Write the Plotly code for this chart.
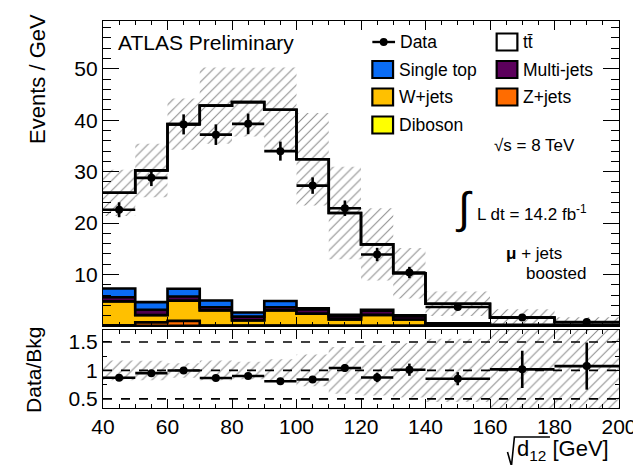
import plotly.graph_objects as go

# ---------------- data ----------------
bin_edges = [40, 50, 60, 70, 80, 90, 100, 110, 120, 130, 140, 160, 180, 200]

ttbar      = [18.6, 25.6, 32.0, 37.9, 40.9, 37.2, 29.0, 19.8, 12.7, 8.2, 3.8, 1.4, 0.6]
single_top = [1.7, 1.5, 1.5, 1.3, 0.8, 1.2, 0.2, 0.3, 0.2, 0.2, 0.1, 0.05, 0.03]
multi_jets = [0.8, 1.0, 0.8, 0.6, 0.7, 0.6, 0.8, 0.6, 0.8, 0.6, 0.15, 0.05, 0.03]
diboson    = [0.05, 0.05, 0.05, 0.05, 0.03, 0.05, 0.03, 0.03, 0.02, 0.02, 0.01, 0.01, 0.005]
w_jets     = [4.6, 1.4, 3.9, 2.9, 1.0, 2.9, 2.3, 1.2, 2.1, 1.2, 0.25, 0.1, 0.05]
z_jets     = [0.15, 0.7, 1.0, 0.1, 0.1, 0.1, 0.1, 0.05, 0.05, 0.05, 0.02, 0.01, 0.01]

mc_unc     = [4.5, 5.2, 5.0, 7.4, 6.7, 8.2, 9.0, 9.0, 7.0, 4.9, 2.4, 1.65, 1.0]

data       = [22.6, 28.8, 39.2, 37.2, 39.3, 34.0, 27.3, 22.9, 13.9, 10.4, 3.7, 1.65, 0.78]
data_err   = [1.45, 1.6, 1.95, 2.0, 2.0, 1.85, 1.6, 1.5, 1.3, 1.1, 0.5, 0.53, 0.3]

x_ticks = [40, 60, 80, 100, 120, 140, 160, 180, 200]
y_ticks = [10, 20, 30, 40, 50]
r_ticks = [0.5, 1, 1.5]
r_tick_text = ["0.5", "1", "1.5"]

# colours
C_ST = "#0a6cf5"
C_MJ = "#4e004e"
C_DB = "#ffff00"
C_W = "#ffc000"
C_Z = "#ff6c00"
HATCH = "#1a1a1a"

FONT = "Liberation Sans, Arial, Helvetica, sans-serif"

# ---------------- derived ----------------
centers = [(bin_edges[i] + bin_edges[i + 1]) / 2 for i in range(len(bin_edges) - 1)]
halfw = [(bin_edges[i + 1] - bin_edges[i]) / 2 for i in range(len(bin_edges) - 1)]


def step(vals):
    return list(bin_edges), list(vals) + [vals[-1]]


layers = [("Z+jets", z_jets, C_Z), ("W+jets", w_jets, C_W), ("Diboson", diboson, C_DB),
          ("Multi-jets", multi_jets, C_MJ), ("Single top", single_top, C_ST), ("ttbar", ttbar, "#ffffff")]

fig = go.Figure()
cum = [0.0] * len(ttbar)
for i, (name, vals, col) in enumerate(layers):
    cum = [c + v for c, v in zip(cum, vals)]
    sx, sy = step(cum)
    fig.add_trace(go.Scatter(x=sx, y=sy, mode="lines", line=dict(shape="hv", color="black", width=2.6),
                             fill="tozeroy" if i == 0 else "tonexty", fillcolor=col,
                             xaxis="x2", yaxis="y2", showlegend=False, hoverinfo="skip"))
total = cum

pattern = dict(shape="/", fgcolor=HATCH, bgcolor="rgba(0,0,0,0)", size=7, solidity=0.15)

# uncertainty band (top)
lo = [t - u for t, u in zip(total, mc_unc)]
hi = [t + u for t, u in zip(total, mc_unc)]
sx, sy = step(lo)
fig.add_trace(go.Scatter(x=sx, y=sy, mode="lines", line=dict(shape="hv", width=0, color="rgba(0,0,0,0)"),
                         xaxis="x2", yaxis="y2", showlegend=False, hoverinfo="skip"))
sx, sy = step(hi)
fig.add_trace(go.Scatter(x=sx, y=sy, mode="lines", line=dict(shape="hv", width=0, color="rgba(0,0,0,0)"),
                         fill="tonexty", fillcolor="rgba(0,0,0,0)", fillpattern=pattern,
                         xaxis="x2", yaxis="y2", showlegend=False, hoverinfo="skip"))
# total line on top
sx, sy = step(total)
fig.add_trace(go.Scatter(x=sx, y=sy, mode="lines", line=dict(shape="hv", color="black", width=2.6),
                         xaxis="x2", yaxis="y2", showlegend=False, hoverinfo="skip"))
# data
fig.add_trace(go.Scatter(x=centers, y=data, mode="markers",
                         marker=dict(color="black", size=8),
                         error_y=dict(type="data", array=data_err, color="black", thickness=2.6, width=0),
                         error_x=dict(type="data", array=halfw, color="black", thickness=2.6, width=0),
                         xaxis="x2", yaxis="y2", showlegend=False, hoverinfo="skip"))

# ---------------- ratio panel ----------------
rel = [u / t for u, t in zip(mc_unc, total)]
ratio = [d / t for d, t in zip(data, total)]
ratio_err = [e / t for e, t in zip(data_err, total)]
sx, sy = step([1 - r for r in rel])
fig.add_trace(go.Scatter(x=sx, y=sy, mode="lines", line=dict(shape="hv", width=0, color="rgba(0,0,0,0)"),
                         xaxis="x", yaxis="y", showlegend=False, hoverinfo="skip"))
sx, sy = step([1 + r for r in rel])
fig.add_trace(go.Scatter(x=sx, y=sy, mode="lines", line=dict(shape="hv", width=0, color="rgba(0,0,0,0)"),
                         fill="tonexty", fillcolor="rgba(0,0,0,0)", fillpattern=pattern,
                         xaxis="x", yaxis="y", showlegend=False, hoverinfo="skip"))
fig.add_trace(go.Scatter(x=centers, y=ratio, mode="markers",
                         marker=dict(color="black", size=8),
                         error_y=dict(type="data", array=ratio_err, color="black", thickness=2.6, width=0),
                         error_x=dict(type="data", array=halfw, color="black", thickness=2.6, width=0),
                         xaxis="x", yaxis="y", showlegend=False, hoverinfo="skip"))

# ---------------- layout helpers ----------------
L, R, T, B = 95, 618, 13, 400
W_, H_ = R - L, B - T


def px(x):
    return (x - L) / W_


def py(y):
    return (B - y) / H_


shapes = []
for rv in r_ticks:
    shapes.append(dict(type="line", xref="paper", yref="y", x0=0, x1=1, y0=rv, y1=rv,
                       line=dict(color="black", width=1.6, dash="dash"), layer="above"))
# thick bottom line of top frame
shapes.append(dict(type="line", xref="paper", yref="y2", x0=0, x1=1, y0=0, y1=0,
                   line=dict(color="black", width=3)))

annotations = []


def text(x, y, s, size=17.5, anchor="left", **kw):
    annotations.append(dict(x=px(x), y=py(y), xref="paper", yref="paper", text=s, showarrow=False,
                            xanchor=anchor, yanchor="middle", font=dict(family=FONT, size=size, color="black"), **kw))


# legend
leg_rows = [34, 61.5, 89, 117]
box_w, box_h = 21, 17
col1, col2 = 368, 494
legend_boxes = [(col1, leg_rows[1], C_ST, "Single top"), (col1, leg_rows[2], C_W, "W+jets"),
                (col1, leg_rows[3], C_DB, "Diboson"), (col2, leg_rows[0], "#ffffff", "t\u0074\u0304"),
                (col2, leg_rows[1], "#5c005c", "Multi-jets"), (col2, leg_rows[2], C_Z, "Z+jets")]
for bx, by, col, lab in legend_boxes:
    shapes.append(dict(type="rect", xref="paper", yref="paper", x0=px(bx), x1=px(bx + box_w),
                       y0=py(by + box_h / 2), y1=py(by - box_h / 2), fillcolor=col,
                       line=dict(color="black", width=2.2), layer="above"))
    text(bx + box_w + 4, by, lab)
# data legend
shapes.append(dict(type="line", xref="paper", yref="paper", x0=px(col1), x1=px(col1 + 23),
                   y0=py(leg_rows[0]), y1=py(leg_rows[0]), line=dict(color="black", width=2.4)))
shapes.append(dict(type="circle", xref="paper", yref="paper", x0=px(col1 + 7.5), x1=px(col1 + 15.5),
                   y0=py(leg_rows[0] + 4), y1=py(leg_rows[0] - 4), fillcolor="black", line=dict(color="black", width=0)))
text(col1 + 26, leg_rows[0], "Data")

text(108, 35, "ATLAS Preliminary", size=21)
text(489, 137, "\u221as = 8 TeV", size=17)
text(450, 200, "\u222b", size=44)
text(472, 205, "L dt = 14.2 fb<sup>-1</sup>", size=17)
text(501, 245, "<b>\u03bc</b> + jets", size=17)
text(522, 265, "boosted", size=17)

# axis titles
text(28, 71, "Events / GeV", size=22, anchor="center", textangle=-90)
text(24, 362, "Data/Bkg", size=21, anchor="center", textangle=-90)
text(513, 442, "d<sub>12</sub> [GeV]", size=22)
# radical sign
shapes.append(dict(type="path", xref="paper", yref="paper",
                   path="M {:.4f},{:.4f} L {:.4f},{:.4f} L {:.4f},{:.4f} L {:.4f},{:.4f}".format(
                       px(505), py(444), px(509), py(458), px(512), py(429), px(548), py(429)),
                   line=dict(color="black", width=1.6)))

axis_common = dict(showline=True, linecolor="black", linewidth=1.2, mirror="allticks", ticks="inside",
                   tickcolor="black", showgrid=False, zeroline=False,
                   tickfont=dict(family=FONT, size=21, color="black"))

fig.update_layout(
    width=641, height=465,
    margin=dict(l=L, r=641 - R, t=T, b=465 - B),
    paper_bgcolor="white", plot_bgcolor="white",
    showlegend=False,
    xaxis=dict(domain=[0, 1], anchor="y", range=[40, 200], tickvals=x_ticks, ticklen=9,
               minor=dict(dtick=5, ticklen=4, ticks="inside", tickcolor="black"), **axis_common),
    yaxis=dict(domain=[0, (B - 322) / H_], anchor="x", range=[0.34, 1.71], tickvals=r_ticks,
               ticktext=r_tick_text, ticklen=7,
               minor=dict(dtick=0.25, ticklen=3.5, ticks="inside", tickcolor="black"), **axis_common),
    xaxis2=dict(domain=[0, 1], anchor="y2", range=[40, 200], matches="x", tickvals=x_ticks,
                showticklabels=False, ticklen=9,
                minor=dict(dtick=5, ticklen=4, ticks="inside", tickcolor="black"), **axis_common),
    yaxis2=dict(domain=[(B - 318) / H_, 1], anchor="x2", range=[0, 59.3], tickvals=y_ticks, ticklen=16,
                minor=dict(dtick=2, ticklen=8, ticks="inside", tickcolor="black"), **axis_common),
    shapes=shapes,
    annotations=annotations,
)

fig.write_html("out.html")
